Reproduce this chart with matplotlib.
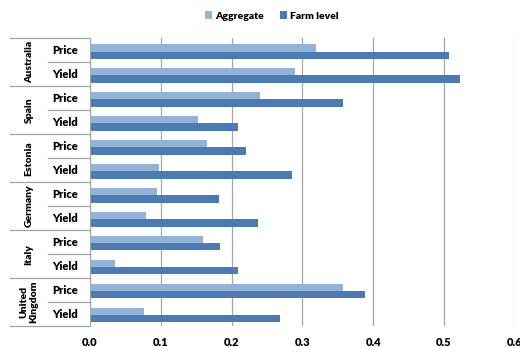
import matplotlib.pyplot as plt
import matplotlib.transforms as mtransforms
import numpy as np

countries = ['Australia', 'Spain', 'Estonia', 'Germany', 'Italy', 'United\nKingdom']
measures = ['Price', 'Yield']

# values, top to bottom: Australia Price, Australia Yield, Spain Price, ...
aggregate = [0.319, 0.290, 0.240, 0.152, 0.166, 0.097,
             0.094, 0.079, 0.160, 0.036, 0.358, 0.077]
farm_level = [0.507, 0.522, 0.358, 0.209, 0.221, 0.285,
              0.182, 0.238, 0.183, 0.209, 0.389, 0.269]

agg_color = '#95B3D7'
farm_color = '#4A7BB7'
line_color = '#a6a6a6'

plt.rcParams['font.family'] = ['Lato', 'DejaVu Sans']

fig = plt.figure(figsize=(5.2, 3.47), dpi=100)
ax = fig.add_axes([0.173, 0.0605, 0.817, 0.829])

y = np.arange(len(aggregate))
h = 0.3
ax.barh(y - h / 2 + 0.05, aggregate, height=h, color=agg_color, label='Aggregate')
ax.barh(y + h / 2 + 0.05, farm_level, height=h, color=farm_color, label='Farm level')

ax.set_xlim(0, 0.6)
ax.set_ylim(len(aggregate) - 0.5, -0.5)
ax.set_xticks(np.arange(0, 0.61, 0.1))
ax.set_xticklabels([f'{v:.1f}' for v in np.arange(0, 0.61, 0.1)],
                   fontsize=8, fontweight='heavy')
ax.tick_params(axis='x', length=0, pad=8)
ax.set_yticks([])
ax.grid(axis='x', color=line_color, linewidth=0.9)
ax.set_axisbelow(True)
for s in ['top', 'right', 'bottom']:
    ax.spines[s].set_visible(False)
ax.spines['left'].set_color(line_color)

# category labels on the left
trans = mtransforms.blended_transform_factory(ax.transAxes, ax.transData)
for i, c in enumerate(countries):
    top = 2 * i - 0.5
    ax.plot([-0.188, 0], [top, top], transform=trans, color=line_color,
            linewidth=0.9, clip_on=False)
    ax.plot([-0.099, 0], [top + 1, top + 1], transform=trans, color=line_color,
            linewidth=0.9, clip_on=False)
    ax.text(-0.143, top + 1, c, transform=trans, rotation=90, ha='center',
            va='center', fontsize=7.5, fontweight='heavy', linespacing=1.1)
    for j, m in enumerate(measures):
        ax.text(-0.058, 2 * i + j, m, transform=trans, ha='center', va='center',
                fontsize=8, fontweight='heavy')
ax.plot([-0.188, 0], [len(aggregate) - 0.5] * 2, transform=trans,
        color=line_color, linewidth=0.9, clip_on=False)

fig.legend(loc='center', bbox_to_anchor=(0.523, 0.954), ncol=2, frameon=False,
           prop={'size': 7.5, 'weight': 'heavy'}, handlelength=0.7,
           handleheight=0.7, handletextpad=0.3, columnspacing=1.5)

plt.savefig('out.png', dpi=100)
